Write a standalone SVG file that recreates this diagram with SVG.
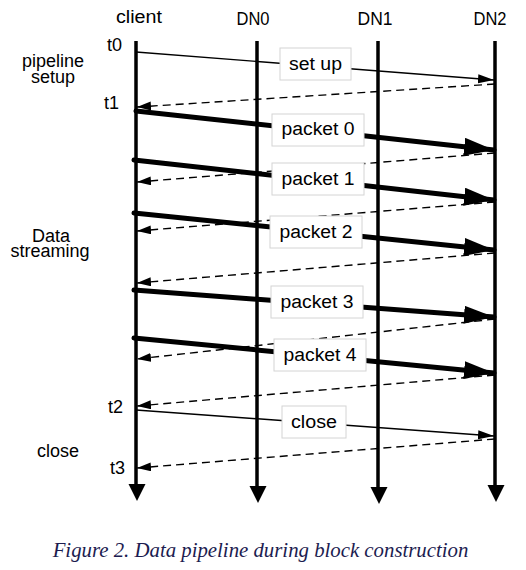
<svg xmlns="http://www.w3.org/2000/svg" width="526" height="570" viewBox="0 0 526 570">
<style>
text{font-family:"Liberation Sans",Arial,sans-serif;font-size:18px;fill:#000}
.lbl{text-anchor:middle}
.life{stroke:#000;stroke-width:3.5;fill:none}
.thin{stroke:#000;stroke-width:1.4;fill:none}
.thick{stroke:#000;stroke-width:5;fill:none;stroke-linecap:round}
.dash{stroke:#000;stroke-width:1.4;fill:none;stroke-dasharray:8,5}
.box{fill:#fff;stroke:#d4d4d4;stroke-width:1}
.cap{font-family:"Liberation Serif","Times New Roman",serif;font-style:italic;font-size:20.8px;fill:#1c1c50}
</style>
<defs>
<marker id="aThin" markerUnits="userSpaceOnUse" markerWidth="18" markerHeight="10" refX="16" refY="4.5" orient="auto"><path d="M0,0 L16,4.5 L0,9 z" fill="#000"/></marker>
<marker id="aThick" markerUnits="userSpaceOnUse" markerWidth="32" markerHeight="20" refX="30" refY="9" orient="auto"><path d="M0,0 L30,9 L0,18 z" fill="#000"/></marker>
<marker id="aDash" markerUnits="userSpaceOnUse" markerWidth="16" markerHeight="11" refX="14" refY="4.5" orient="auto"><path d="M0,0 L14,4.5 L0,9 z" fill="#000"/></marker>
<path id="vhead" d="M-8.5,0 L8.5,0 L0,17 z" fill="#000"/>
</defs>

<g id="client">
<text class="lbl" x="139" y="23" textLength="46" lengthAdjust="spacingAndGlyphs">client</text>
<line class="life" x1="136" y1="41" x2="136" y2="486"/>
<use href="#vhead" x="137" y="484"/>
</g>
<g id="DN0">
<text class="lbl" x="253" y="25" textLength="33" lengthAdjust="spacingAndGlyphs">DN0</text>
<line class="life" x1="257" y1="41" x2="257" y2="488"/>
<use href="#vhead" x="258" y="486"/>
</g>
<g id="DN1">
<text class="lbl" x="375" y="25" textLength="35" lengthAdjust="spacingAndGlyphs">DN1</text>
<line class="life" x1="378" y1="41" x2="378" y2="489"/>
<use href="#vhead" x="379" y="487"/>
</g>
<g id="DN2">
<text class="lbl" x="490" y="25" textLength="33" lengthAdjust="spacingAndGlyphs">DN2</text>
<line class="life" x1="495" y1="41" x2="495" y2="487"/>
<use href="#vhead" x="496" y="485"/>
</g>

<g id="side-labels">
<text x="107" y="51">t0</text>
<text class="lbl"><tspan x="53" y="67">pipeline</tspan><tspan x="53" y="83">setup</tspan></text>
<text x="104" y="109">t1</text>
<text class="lbl"><tspan x="51" y="242">Data</tspan><tspan x="50" y="257">streaming</tspan></text>
<text x="108" y="413">t2</text>
<text class="lbl" x="58" y="457">close</text>
<text x="110" y="474">t3</text>
</g>

<g id="connectors">
<line class="thin" x1="136" y1="52" x2="494" y2="80" marker-end="url(#aThin)"/>
<line class="dash" x1="495" y1="84" x2="137" y2="107" marker-end="url(#aDash)"/>
<line class="thick" x1="136" y1="111" x2="494" y2="150" marker-end="url(#aThick)"/>
<line class="dash" x1="495" y1="153" x2="137" y2="182" marker-end="url(#aDash)"/>
<line class="thick" x1="134" y1="160" x2="494" y2="200" marker-end="url(#aThick)"/>
<line class="dash" x1="495" y1="202" x2="137" y2="231" marker-end="url(#aDash)"/>
<line class="thick" x1="134" y1="213" x2="494" y2="250" marker-end="url(#aThick)"/>
<line class="dash" x1="495" y1="253" x2="137" y2="283" marker-end="url(#aDash)"/>
<line class="thick" x1="134" y1="290" x2="494" y2="317" marker-end="url(#aThick)"/>
<line class="dash" x1="495" y1="319" x2="137" y2="359" marker-end="url(#aDash)"/>
<line class="thick" x1="134" y1="338" x2="494" y2="373" marker-end="url(#aThick)"/>
<line class="dash" x1="495" y1="375" x2="137" y2="406" marker-end="url(#aDash)"/>
<line class="thin" x1="136" y1="410" x2="494" y2="436" marker-end="url(#aThin)"/>
<line class="dash" x1="495" y1="439" x2="137" y2="468" marker-end="url(#aDash)"/>
</g>

<g id="lbl-setup"><rect class="box" x="280" y="48" width="71" height="32"/><text class="lbl" x="315.5" y="70" textLength="53" lengthAdjust="spacingAndGlyphs">set up</text></g>
<g id="lbl-p0"><rect class="box" x="272" y="114" width="92" height="32"/><text class="lbl" x="318" y="135" textLength="73" lengthAdjust="spacingAndGlyphs">packet 0</text></g>
<g id="lbl-p1"><rect class="box" x="272" y="163" width="92" height="32"/><text class="lbl" x="318" y="185" textLength="73" lengthAdjust="spacingAndGlyphs">packet 1</text></g>
<g id="lbl-p2"><rect class="box" x="270" y="216" width="92" height="32"/><text class="lbl" x="316" y="238" textLength="73" lengthAdjust="spacingAndGlyphs">packet 2</text></g>
<g id="lbl-p3"><rect class="box" x="271" y="286" width="92" height="32"/><text class="lbl" x="317" y="308" textLength="73" lengthAdjust="spacingAndGlyphs">packet 3</text></g>
<g id="lbl-p4"><rect class="box" x="274" y="339" width="92" height="32"/><text class="lbl" x="320" y="361" textLength="73" lengthAdjust="spacingAndGlyphs">packet 4</text></g>
<g id="lbl-close"><rect class="box" x="282" y="406" width="64" height="32"/><text class="lbl" x="314" y="428" textLength="46" lengthAdjust="spacingAndGlyphs">close</text></g>

<text class="cap" x="260.5" y="557" text-anchor="middle">Figure 2. Data pipeline during block construction</text>
</svg>
